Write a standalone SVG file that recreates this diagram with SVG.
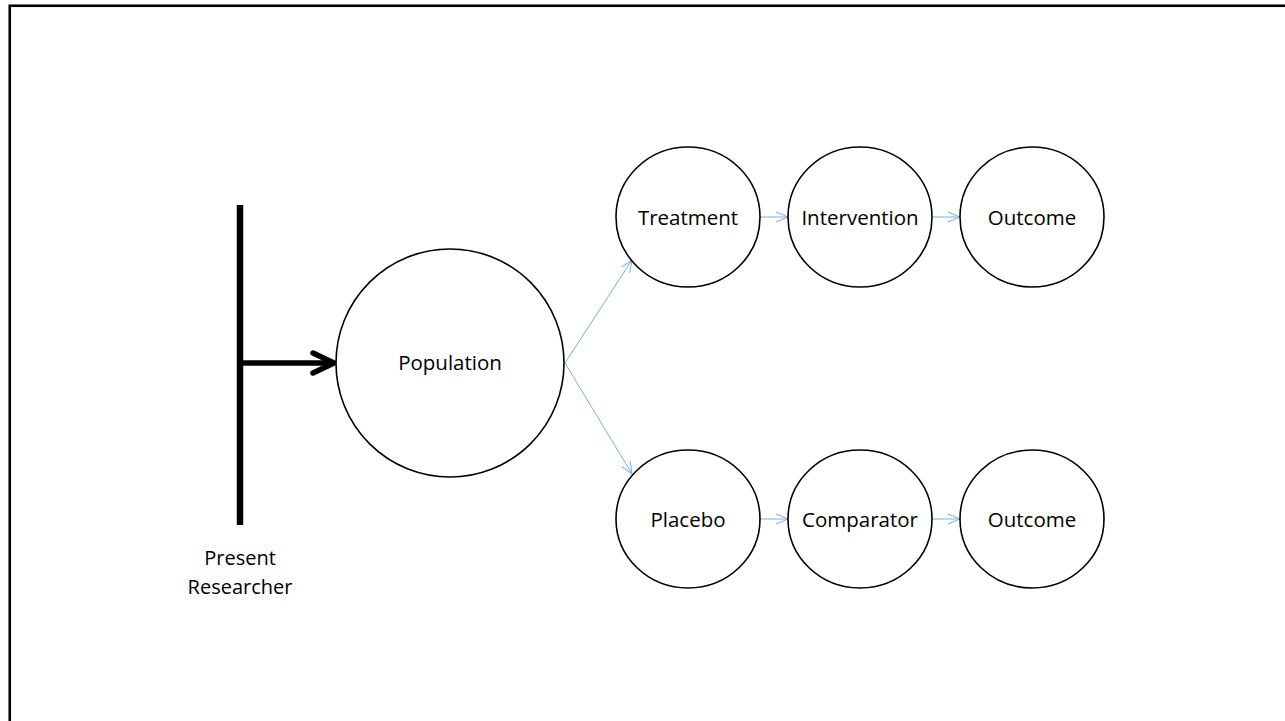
<svg xmlns="http://www.w3.org/2000/svg" width="1285" height="721" viewBox="0 0 1285 721">
  <style>
    .node { fill: #ffffff; stroke: #000000; stroke-width: 1.6; }
    .label { font-family: "Open Sans", "Liberation Sans", sans-serif; font-size: 20.5px; fill: #000000; text-anchor: middle; }
    .link { stroke: #7aaee0; stroke-width: 1; fill: none; marker-end: url(#open-arrow); }
  </style>
  <defs>
    <marker id="open-arrow" markerWidth="14" markerHeight="12" refX="12" refY="6" orient="auto" markerUnits="userSpaceOnUse">
      <path d="M0,1 L12,6 L0,11" fill="none" stroke="#7aaee0" stroke-width="1"/>
    </marker>
  </defs>

  <rect width="1285" height="721" fill="#ffffff"/>
  <!-- frame: open at right and bottom -->
  <rect x="9.75" y="5.75" width="1320" height="760" fill="none" stroke="#000000" stroke-width="2.6"/>

  <!-- researcher timeline bar -->
  <g id="researcher">
    <line x1="240" y1="205" x2="240" y2="525" stroke="#000000" stroke-width="6.5"/>
    <text class="label" x="240" y="565" style="font-size:20px">Present</text>
    <text class="label" x="240" y="594" style="font-size:20px">Researcher</text>
  </g>

  <g id="connectors">
    <!-- heavy arrow from the bar into Population -->
    <line x1="240" y1="363" x2="333" y2="363" stroke="#000000" stroke-width="5.5"/>
    <path d="M313,353 L334,363 L313,373" fill="none" stroke="#000000" stroke-width="5.5" stroke-linecap="round" stroke-linejoin="round"/>
    <!-- Population split -->
    <line class="link" x1="565" y1="363" x2="632" y2="260"/>
    <line class="link" x1="565" y1="363" x2="632" y2="474"/>
    <!-- treatment arm -->
    <line class="link" x1="760" y1="217" x2="788" y2="217"/>
    <line class="link" x1="932" y1="217" x2="960" y2="217"/>
    <!-- placebo arm -->
    <line class="link" x1="760" y1="519" x2="788" y2="519"/>
    <line class="link" x1="932" y1="519" x2="960" y2="519"/>
  </g>

  <g id="population">
    <circle class="node" cx="450" cy="363" r="114"/>
    <text class="label" x="450" y="370">Population</text>
  </g>

  <g id="treatment">
    <ellipse class="node" cx="688" cy="217" rx="72" ry="70"/>
    <text class="label" x="688" y="225">Treatment</text>
  </g>
  <g id="intervention">
    <ellipse class="node" cx="860" cy="217" rx="72" ry="70"/>
    <text class="label" x="860" y="225">Intervention</text>
  </g>
  <g id="outcome-treatment">
    <ellipse class="node" cx="1032" cy="217" rx="72" ry="70"/>
    <text class="label" x="1032" y="225">Outcome</text>
  </g>

  <g id="placebo">
    <ellipse class="node" cx="688" cy="519" rx="72" ry="69"/>
    <text class="label" x="688" y="527">Placebo</text>
  </g>
  <g id="comparator">
    <ellipse class="node" cx="860" cy="519" rx="72" ry="69"/>
    <text class="label" x="860" y="527">Comparator</text>
  </g>
  <g id="outcome-placebo">
    <ellipse class="node" cx="1032" cy="519" rx="72" ry="69"/>
    <text class="label" x="1032" y="527">Outcome</text>
  </g>
</svg>
